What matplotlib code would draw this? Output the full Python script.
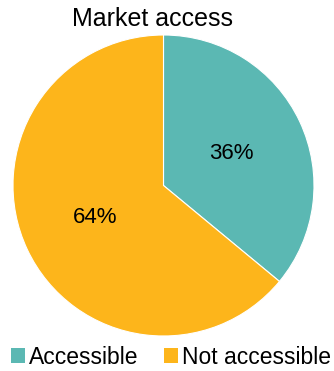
import matplotlib.pyplot as plt
from matplotlib.patches import Patch

plt.rcParams['font.family'] = ['Liberation Sans', 'DejaVu Sans']

labels = ['Accessible', 'Not accessible']
shares = [36, 64]
colors = ['#5BB8B3', '#FDB51B']

fig = plt.figure(figsize=(3.34, 3.71), dpi=100)
ax = fig.add_axes([13 / 334, 35 / 371, 301 / 334, 301 / 371])
ax.pie(shares, colors=colors, startangle=90, counterclock=False,
       autopct='%d%%', pctdistance=0.5,
       textprops={'fontsize': 16, 'color': 'black'},
       wedgeprops={'linewidth': 0.8, 'edgecolor': 'white'})
ax.set_aspect('equal')
ax.set_xlim(-1, 1)
ax.set_ylim(-1, 1)

fig.text(152 / 334, 1 - 19 / 371, 'Market access', ha='center', va='center', fontsize=18)

handles = [Patch(facecolor=c, label=l) for c, l in zip(colors, labels)]
fig.legend(handles=handles, loc='center', bbox_to_anchor=(171 / 334, 1 - 357 / 371),
           ncol=2, frameon=False, fontsize=16.5, handlelength=0.6, handleheight=0.6,
           handletextpad=0.2, columnspacing=1.1, borderaxespad=0, borderpad=0)

fig.savefig('out.png', dpi=100)
